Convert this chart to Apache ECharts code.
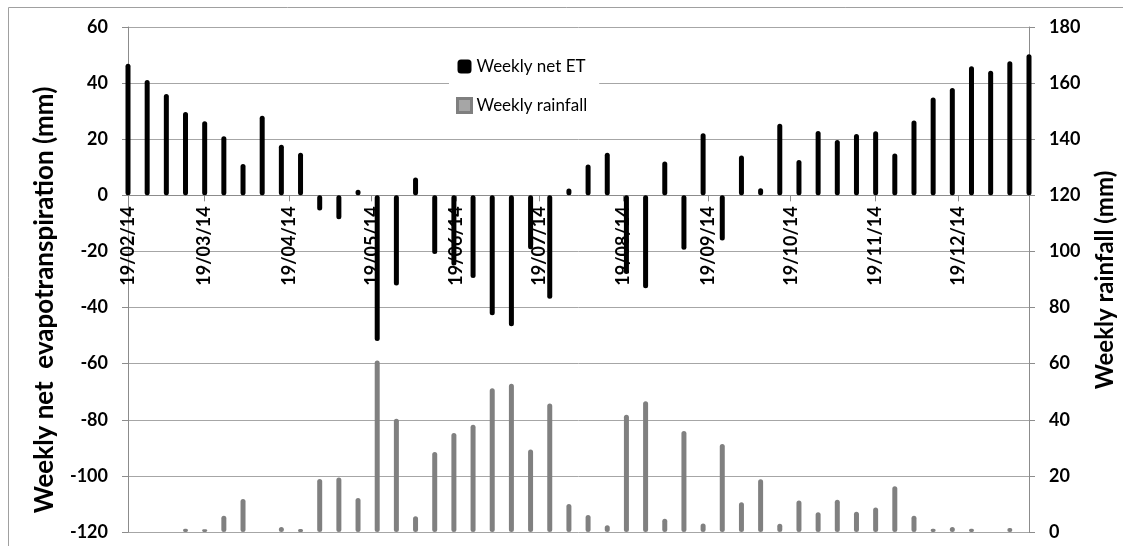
<!DOCTYPE html>
<html>
<head>
<meta charset="utf-8">
<script src="https://cdn.jsdelivr.net/npm/echarts@6/dist/echarts.min.js"></script>
<style>html,body{margin:0;padding:0;background:#fff}#c{width:1123px;height:546px}</style>
</head>
<body>
<div id="c"></div>
<script>
// Week dates (one bar per week)
const weekDates = [
 '2014-02-19','2014-02-26','2014-03-05','2014-03-12','2014-03-19','2014-03-26',
 '2014-04-02','2014-04-09','2014-04-16','2014-04-23','2014-04-30','2014-05-07',
 '2014-05-14','2014-05-21','2014-05-28','2014-06-04','2014-06-11','2014-06-18',
 '2014-06-25','2014-07-02','2014-07-09','2014-07-16','2014-07-23','2014-07-30',
 '2014-08-06','2014-08-13','2014-08-20','2014-08-27','2014-09-03','2014-09-10',
 '2014-09-17','2014-09-24','2014-10-01','2014-10-08','2014-10-15','2014-10-22',
 '2014-10-29','2014-11-05','2014-11-12','2014-11-19','2014-11-26','2014-12-03',
 '2014-12-10','2014-12-17','2014-12-24','2014-12-31','2015-01-07','2015-01-14'
];
// Weekly net ET (mm), left axis
const netET = [
 46.9, 41.1, 36.1, 29.7, 26.4, 21.1, 11.2, 28.4, 18.0, 15.2,
 -5.4, -8.5, 2.0, -51.9, -32.1, 6.4, -20.9, -25.0, -29.5, -42.7,
 -46.7, -19.2, -36.9, 2.4, 11.0, 15.2, -28.0, -33.1, 12.1, -19.4,
 22.1, -16.1, 14.2, 2.5, 25.5, 12.6, 22.9, 19.7, 21.9, 22.8,
 14.9, 26.7, 34.9, 38.3, 46.0, 44.4, 47.8, 50.3
];
// Weekly rainfall (mm), right axis
const rainfall = [
 0, 0, 0, 1.2, 1.0, 5.8, 11.8, 0, 1.8, 1.1,
 18.9, 19.4, 12.1, 61.1, 40.4, 5.6, 28.5, 35.3, 38.2, 51.2,
 52.8, 29.4, 45.8, 10.0, 6.1, 2.4, 41.8, 46.6, 4.7, 36.0,
 3.0, 31.4, 10.6, 18.8, 2.9, 11.2, 7.0, 11.5, 7.2, 8.7,
 16.3, 5.8, 1.2, 1.8, 1.2, 0, 1.4, 0
];
// Month tick dates on the x axis
const tickDates = [
 '2014-02-19','2014-03-19','2014-04-19','2014-05-19','2014-06-19','2014-07-19',
 '2014-08-19','2014-09-19','2014-10-19','2014-11-19','2014-12-19'
];
const axisStart = '2014-02-19';
const axisEnd = '2015-01-14';
const leftTicks = {min: -120, max: 60, interval: 20};
const rightTicks = {min: 0, max: 180, interval: 20};

function ts(s) { const p = s.split('-').map(Number); return Date.UTC(p[0], p[1]-1, p[2]); }
function pad(n) { return (n < 10 ? '0' : '') + n; }
function fmt(v) {
  const d = new Date(v);
  return pad(d.getUTCDate()) + '/' + pad(d.getUTCMonth()+1) + '/' + String(d.getUTCFullYear()).slice(2);
}

const FONT = 'Lato';
const GRID = '#a6a6a6';
const AXIS = '#8c8c8c';
const tickVals = tickDates.map(ts);

const W = 1123, H = 546;
const G = {left: 128, right: 94, top: 27, bottom: 14};
const plotH = H - G.top - G.bottom;
// place the x axis on the zero line of the left axis
const zeroFromBottom = plotH * (0 - leftTicks.min) / (leftTicks.max - leftTicks.min);

const chart = echarts.init(document.getElementById('c'), null, {renderer: 'canvas'});
chart.setOption({
  animation: false,
  backgroundColor: '#fff',
  grid: {left: G.left, right: G.right, top: G.top, bottom: G.bottom, containLabel: false, outerBoundsMode: 'none'},
  legend: {
    orient: 'vertical', left: 449, top: 45,
    padding: [13, 12, 13, 7], backgroundColor: '#fff',
    itemWidth: 14, itemHeight: 14, itemGap: 22,
    textStyle: {fontFamily: FONT, fontSize: 17, color: '#000'},
    data: [
      {name: 'Weekly net ET', icon: 'roundRect', itemStyle: {color: '#000'}},
      {name: 'Weekly rainfall', icon: 'rect', itemStyle: {color: '#a6a6a6', borderColor: '#7f7f7f', borderWidth: 3}}
    ]
  },
  xAxis: {
    type: 'value', min: ts(axisStart), max: ts(axisEnd),
    position: 'bottom', offset: -zeroFromBottom,
    axisLine: {show: true, onZero: false, lineStyle: {color: AXIS}},
    axisTick: {show: true, length: 6, customValues: tickVals, lineStyle: {color: AXIS}},
    axisLabel: {
      customValues: tickVals, rotate: 90, margin: 11,
      formatter: fmt, fontFamily: FONT, fontSize: 18, fontWeight: 'bold', color: '#000'
    },
    splitLine: {show: false}
  },
  yAxis: [
    {
      type: 'value', min: leftTicks.min, max: leftTicks.max, interval: leftTicks.interval,
      axisLine: {show: true, onZero: false, lineStyle: {color: AXIS}},
      axisTick: {show: true, length: 6, lineStyle: {color: AXIS}},
      axisLabel: {margin: 20, fontFamily: FONT, fontSize: 18, fontWeight: 'bold', color: '#000'},
      splitLine: {show: true, lineStyle: {color: GRID, width: 1}}
    },
    {
      type: 'value', min: rightTicks.min, max: rightTicks.max, interval: rightTicks.interval,
      position: 'right',
      axisLine: {show: true, onZero: false, lineStyle: {color: AXIS}},
      axisTick: {show: true, length: 6, lineStyle: {color: AXIS}},
      axisLabel: {margin: 20, fontFamily: FONT, fontSize: 18, fontWeight: 'bold', color: '#000'},
      splitLine: {show: false}
    }
  ],
  series: [
    {
      name: 'Weekly net ET', type: 'bar', yAxisIndex: 0, barWidth: 5, barGap: '-100%',
      itemStyle: {color: '#000', borderRadius: 2.5},
      data: weekDates.map((d, i) => [ts(d), netET[i]]),
      z: 3
    },
    {
      name: 'Weekly rainfall', type: 'bar', yAxisIndex: 1, barWidth: 5, barGap: '-100%',
      itemStyle: {color: '#808080', borderRadius: 2.5},
      data: weekDates.map((d, i) => [ts(d), rainfall[i]]),
      z: 2
    }
  ],
  graphic: [
    {type: 'rect', shape: {x: 8.5, y: 7.5, width: 1200, height: 600}, style: {fill: 'none', stroke: '#a0a0a0', lineWidth: 1}, silent: true, z: -1},
    {type: 'text', x: 45, y: 300, rotation: Math.PI/2,
     style: {text: 'Weekly net  evapotranspiration (mm)', fontFamily: FONT, fontSize: 26, fontWeight: 'bold', fill: '#000', align: 'center', verticalAlign: 'middle'}},
    {type: 'text', x: 1105, y: 280, rotation: Math.PI/2,
     style: {text: 'Weekly rainfall (mm)', fontFamily: FONT, fontSize: 24, fontWeight: 'bold', fill: '#000', align: 'center', verticalAlign: 'middle'}}
  ]
});
</script>
</body>
</html>
